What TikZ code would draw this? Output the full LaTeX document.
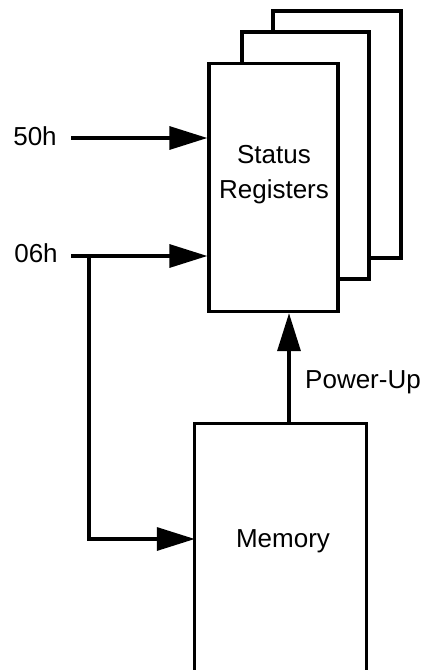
\documentclass[tikz,border=0pt]{standalone}
\usepackage{fontspec}
\setmainfont{Liberation Sans}
\usetikzlibrary{arrows.meta}
\begin{document}
\begin{tikzpicture}[x=1pt,y=-1pt,
  boxs/.style={draw=black,fill=white,line width=3.3pt,inner sep=0pt,rectangle},
  lbl/.style={font=\fontsize{26}{35}\selectfont,inner sep=0pt,align=center},
  conn/.style={line width=3.3pt},
  arr/.style={line width=3.3pt,-{Triangle[length=38pt,width=23pt]}}]
\useasboundingbox (0,0) rectangle (422,670);
% stacked register boxes
\node[boxs,minimum width=128pt,minimum height=247pt] (back) at (337,134.5) {};
\node[boxs,minimum width=127pt,minimum height=247pt] (mid) at (305.5,155.5) {};
\node[boxs,minimum width=129pt,minimum height=248pt] (sr) at (273.5,187.5) {};
\node[lbl] (srtxt) at (274,175) {Status\\Registers};
% memory box (open at the bottom)
\node[inner sep=0pt,minimum width=171pt,minimum height=246pt] (mem) at (280.5,547) {};
\draw[line width=3.3pt] (mem.south west) -- (mem.north west) -- (mem.north east) -- (mem.south east);
\node[lbl] (memtxt) at (283,541) {Memory};
% labels
\node[lbl] (l50) at (35,136) {50h};
\node[lbl] (l06) at (36,253) {06h};
\node[lbl,anchor=west] (lpu) at (305,382) {Power-Up};
% connectors
\coordinate (s50) at (71,138);
\coordinate (s06) at (71,256);
\coordinate (j06) at (89,256);
\coordinate (pu) at (289,424);
\draw[arr] (s50) -- (s50 -| sr.west);
\draw[arr] (s06) -- (s06 -| sr.west);
\draw[arr] (j06) -- (j06 |- 0,539) -- (mem.west |- 0,539);
\draw[arr] (pu) -- (pu |- sr.south);
\end{tikzpicture}
\end{document}
